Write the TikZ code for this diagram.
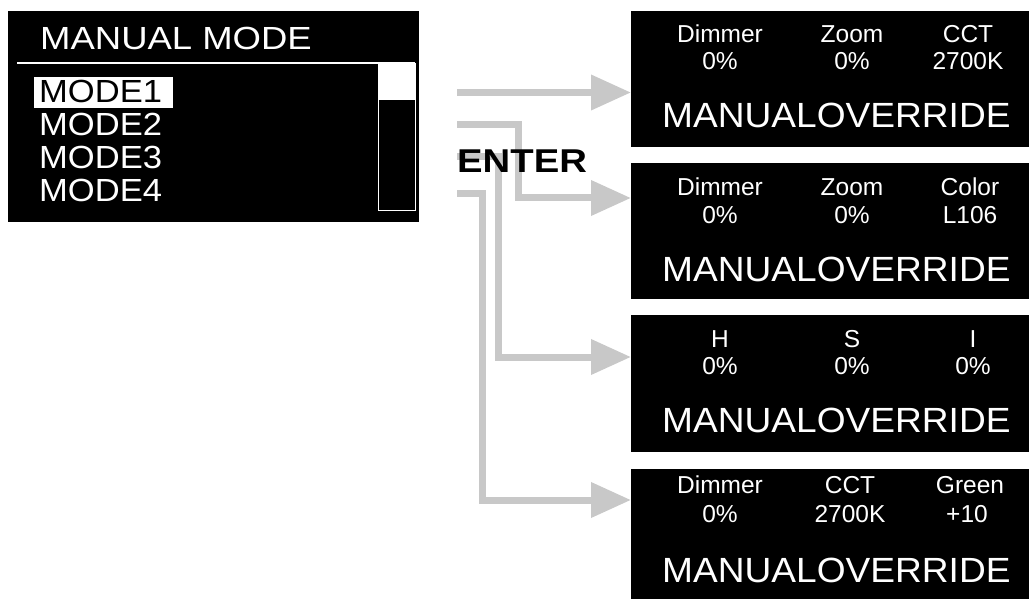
\documentclass[tikz,border=0pt]{standalone}
\usepackage{fontspec}
\setmainfont{Liberation Sans}
\usepackage{graphicx}
\usetikzlibrary{arrows.meta}
\definecolor{arrgray}{RGB}{200,200,200}
\tikzset{
  panel/.style={fill=black, draw=none, anchor=north west, inner sep=0pt},
  lab/.style={text=white, anchor=base, inner sep=0pt, font=\fontsize{24.5}{29}\selectfont},
  big/.style={text=white, anchor=base west, inner sep=0pt, font=\fontsize{35}{42}\selectfont},
  modetxt/.style={text=white, anchor=base west, inner sep=0pt, font=\fontsize{32}{38}\selectfont},
  arr/.style={draw=arrgray, line width=7pt, line join=miter, -{Triangle[length=40pt,width=34pt]}}
}
\begin{document}
\begin{tikzpicture}[x=1pt, y=-1pt]
\useasboundingbox (0,0) rectangle (1029,599);

% left screen
\node[panel, minimum width=411pt, minimum height=211pt] (lb) at (8,11) {};
\node[modetxt] (title) at (40,50) {\scalebox{1.14}[1]{MANUAL MODE}};
\draw[white, line width=2pt] (17,63) -- (415,63);
\node[panel, fill=none, draw=white, line width=1.2pt, minimum width=37pt, minimum height=147pt] (sb) at (378,63) {};
\fill[white] (378,63) rectangle (415,100);
\node[panel, fill=white, minimum width=139pt, minimum height=31pt] (hl) at (34,77) {};
\node[modetxt, text=black] (m1) at (39,103) {\scalebox{1.08}[1]{MODE1}};
\node[modetxt] (m2) at (39,136) {\scalebox{1.08}[1]{MODE2}};
\node[modetxt] (m3) at (39,169) {\scalebox{1.08}[1]{MODE3}};
\node[modetxt] (m4) at (39,202) {\scalebox{1.08}[1]{MODE4}};

% right screens
\node[panel, minimum width=398pt, minimum height=136pt] (b1) at (631,11) {};
\node[panel, minimum width=398pt, minimum height=136pt] (b2) at (631,163) {};
\node[panel, minimum width=398pt, minimum height=137pt] (b3) at (631,315) {};
\node[panel, minimum width=398pt, minimum height=130pt] (b4) at (631,469) {};

% panel 1
\node[lab] (p1a) at (720,43) {Dimmer};
\node[lab] (p1b) at (852,43) {Zoom};
\node[lab] (p1c) at (968,43) {CCT};
\node[lab] (p1d) at (720,70) {0\%};
\node[lab] (p1e) at (852,70) {0\%};
\node[lab] (p1f) at (968,70) {2700K};
\node[big] (p1g) at (662,128) {\scalebox{1.06}[1]{MANUALOVERRIDE}};
% panel 2
\node[lab] (p2a) at (720,196) {Dimmer};
\node[lab] (p2b) at (852,196) {Zoom};
\node[lab] (p2c) at (970,196) {Color};
\node[lab] (p2d) at (720,223) {0\%};
\node[lab] (p2e) at (852,223) {0\%};
\node[lab] (p2f) at (970,223) {L106};
\node[big] (p2g) at (662,281) {\scalebox{1.06}[1]{MANUALOVERRIDE}};
% panel 3
\node[lab] (p3a) at (720,347) {H};
\node[lab] (p3b) at (852,347) {S};
\node[lab] (p3c) at (973,347) {I};
\node[lab] (p3d) at (720,374) {0\%};
\node[lab] (p3e) at (852,374) {0\%};
\node[lab] (p3f) at (973,374) {0\%};
\node[big] (p3g) at (662,432) {\scalebox{1.06}[1]{MANUALOVERRIDE}};
% panel 4
\node[lab] (p4a) at (720,493) {Dimmer};
\node[lab] (p4b) at (850,493) {CCT};
\node[lab] (p4c) at (970,493) {Green};
\node[lab] (p4d) at (720,522) {0\%};
\node[lab] (p4e) at (850,522) {2700K};
\node[lab] (p4f) at (967,522) {+10};
\node[big] (p4g) at (662,582) {\scalebox{1.06}[1]{MANUALOVERRIDE}};

% arrows
\coordinate (s1) at (457,92.5);
\coordinate (s2) at (457,125);
\coordinate (s3) at (457,157);
\coordinate (s4) at (457,193.5);
\draw[arr] (s1) -- (s1 -| b1.west);
\draw[arr] (s2) -- (518.5,125) -- (518.5,198) -- (b2.west |- {(0,198)});
\draw[arr] (s3) -- (498.5,157) -- (498.5,357) -- (b3.west |- {(0,357)});
\draw[arr] (s4) -- (482,193.5) -- (482,500) -- (b4.west |- {(0,500)});

\node[anchor=base west, inner sep=0pt, font=\bfseries\fontsize{33}{40}\selectfont] (enter) at (457,173) {\scalebox{1.16}[1]{ENTER}};
\end{tikzpicture}
\end{document}
